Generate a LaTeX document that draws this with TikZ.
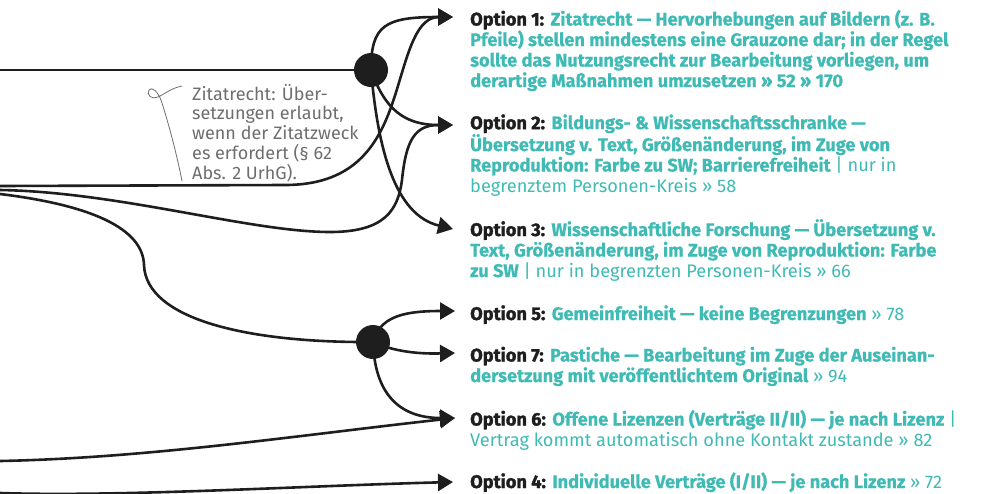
\documentclass[tikz,border=0pt]{standalone}
\usepackage{fontspec}
\setmainfont{Fira Sans}[BoldFeatures={FakeBold=0.6}]
\newfontfamily\heavyfont{Fira Sans}[BoldFeatures={FakeBold=1.6}]
\usetikzlibrary{arrows.meta}
\definecolor{teal1}{HTML}{3FBAB4}
\definecolor{ink}{HTML}{1E1E1E}
\definecolor{note}{HTML}{6E6E6E}
\newcommand{\optlab}[1]{{\heavyfont\bfseries\color{ink}#1}}
\newcommand{\tbold}[1]{{\bfseries\color{teal1}#1}}
\newcommand{\treg}[1]{{\color{teal1}#1}}
\tikzset{
  flow/.style={line width=2.6pt, draw=ink},
  arr/.style={flow, -{Triangle[length=15pt,width=17pt]}},
  hub/.style={circle, fill=ink, minimum size=34pt, inner sep=0pt},
  opttext/.style={anchor=base west, align=left, inner sep=0pt, font=\fontsize{18.2}{20.5}\selectfont},
  notetext/.style={anchor=base west, align=left, inner sep=0pt, text=note, font=\fontsize{18}{19.7}\selectfont},
  curl/.style={draw=note, line width=0.8pt}
}
\begin{document}
\begin{tikzpicture}[x=1pt,y=-1pt]
\useasboundingbox (0,0) rectangle (985,493);
% start and tip coordinates
\coordinate (s1) at (0,70);
\coordinate (s2) at (0,186);
\coordinate (s3) at (0,190);
\coordinate (s4) at (0,194);
\coordinate (s5) at (0,461);
\coordinate (s6) at (0,493);
\coordinate (t1) at (453,17);
\coordinate (t2) at (453,125);
\coordinate (t3) at (453,229);
\coordinate (t5) at (455,311);
\coordinate (t7) at (455,353);
\coordinate (t6) at (455,418);
\coordinate (t4) at (453,482);
\coordinate (h1) at (371,70);
\coordinate (h2) at (373,342);
% lines from the left
\draw[flow] (s1) -- (h1);
\draw[arr] (s2) -- (285,185) .. controls (350,185) and (375,150) .. (390,110)
   .. controls (405,70) and (412,17) .. (t1);
\draw[arr] (s3) .. controls (120,192) and (250,232) .. (330,232)
   .. controls (385,232) and (398,210) .. (402,180)
   .. controls (406,140) and (415,125) .. (t2);
\draw[flow] (s4) .. controls (90,205) and (143,228) .. (144,265)
   .. controls (146,320) and (250,343) .. (h2);
\draw[arr] (s5) .. controls (150,458) and (300,435) .. (t6);
\draw[arr] (s6) .. controls (120,497) and (300,486) .. (t4);
% branches of hub 1
\draw[arr] (h1) .. controls (371,25) and (385,17) .. (t1);
\draw[arr] (h1) .. controls (385,110) and (405,125) .. (t2);
\draw[arr] (h1) .. controls (378,150) and (395,215) .. (t3);
% branches of hub 2
\draw[arr] (h2) .. controls (380,318) and (400,311) .. (t5);
\draw[arr] (h2) .. controls (395,352) and (420,354) .. (t7);
\draw[arr] (h2) .. controls (375,400) and (405,418) .. (t6);
% hubs
\node[hub] (hub1) at (h1) {};
\node[hub] (hub2) at (h2) {};
% annotation
\node[notetext] (note) at (192,179) {Zitatrecht: Über-\\setzungen erlaubt,\\wenn der Zitatzweck\\es erfordert (§ 62\\Abs. 2 UrhG).};
\draw[curl] (182,181) .. controls (176,150) and (166,115) .. (161,100)
   .. controls (158,92) and (152,86) .. (149,90)
   .. controls (146,95) and (152,100) .. (158,97)
   .. controls (166,93) and (172,88) .. (182,86);
% option texts (anchored at the baseline of the last line)
\node[opttext] (o1) at (470,87) {\optlab{Option 1:} \tbold{Zitatrecht — Hervorhebungen auf Bildern (z. B.}\\
\tbold{Pfeile) stellen mindestens eine Grauzone dar; in der Regel}\\
\tbold{sollte das Nutzungsrecht zur Bearbeitung vorliegen, um}\\
\tbold{derartige Maßnahmen umzusetzen » 52 » 170}};
\node[opttext] (o2) at (470,192) {\optlab{Option 2:} \tbold{Bildungs- \& Wissenschaftsschranke —}\\
\tbold{Übersetzung v. Text, Größenänderung, im Zuge von}\\
\tbold{Reproduktion: Farbe zu SW; Barrierefreiheit} \treg{| nur in}\\
\treg{begrenztem Personen-Kreis » 58}};
\node[opttext] (o3) at (470,277) {\optlab{Option 3:} \tbold{Wissenschaftliche Forschung — Übersetzung v.}\\
\tbold{Text, Größenänderung, im Zuge von Reproduktion: Farbe}\\
\tbold{zu SW} \treg{| nur in begrenzten Personen-Kreis » 66}};
\node[opttext] (o5) at (470,320) {\optlab{Option 5:} \tbold{Gemeinfreiheit — keine Begrenzungen} \treg{» 78}};
\node[opttext] (o7) at (470,382) {\optlab{Option 7:} \tbold{Pastiche — Bearbeitung im Zuge der Auseinan-}\\
\tbold{dersetzung mit veröffentlichtem Original} \treg{» 94}};
\node[opttext] (o6) at (470,446) {\optlab{Option 6:} \tbold{Offene Lizenzen (Verträge II/II) — je nach Lizenz} \treg{|}\\
\treg{Vertrag kommt automatisch ohne Kontakt zustande » 82}};
\node[opttext] (o4) at (470,488) {\optlab{Option 4:} \tbold{Individuelle Verträge (I/II) — je nach Lizenz} \treg{» 72}};
\end{tikzpicture}
\end{document}
